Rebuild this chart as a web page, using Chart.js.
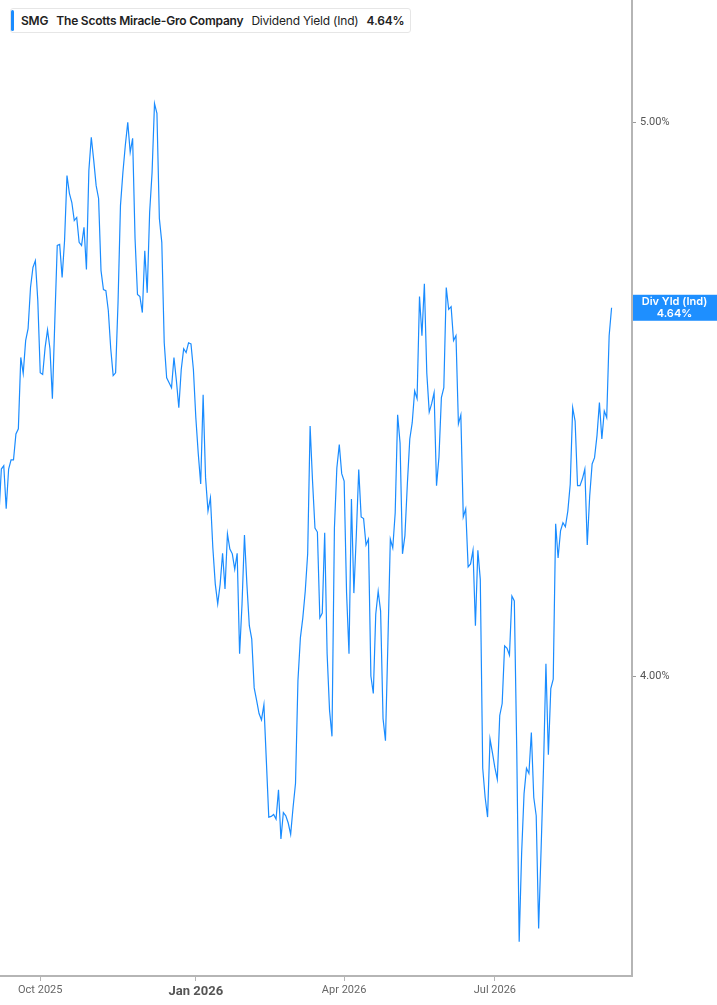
<!DOCTYPE html>
<html>
<head>
<meta charset="utf-8">
<script src="https://cdn.jsdelivr.net/npm/chart.js@4"></script>
<style>
  body { margin: 0; background: #fff; }
  #wrap { position: relative; width: 717px; height: 1005px; }
  #legend {
    position: absolute; left: 10px; top: 8px; height: 25px;
    box-sizing: border-box; border: 1px solid #e6e6e6; border-radius: 3px; background: #fff;
    display: flex; align-items: center; padding: 0 6px 0 10px; gap: 8px; white-space: nowrap;
    font-family: Inter, sans-serif; font-size: 12px; letter-spacing: -0.2px; color: #222;
  }
  #legend::before {
    content: ''; position: absolute; left: 0; top: 1px; bottom: 1px; width: 3px;
    background: #1a8cff; border-radius: 2px;
  }
  #legend b { font-weight: 600; }
</style>
</head>
<body>
<div id="wrap">
  <canvas id="myChart"></canvas>
  <div id="legend"><b>SMG</b><b>The Scotts Miracle-Gro Company</b><span>Dividend Yield (Ind)</span><b>4.64%</b></div>
</div>
<script>
// trading days from 8 Sep 2025, daily indicated dividend yield (%)
const startDate = '2025-09-08';
const holidays = ['2025-11-27', '2025-12-25', '2026-01-01', '2026-01-19', '2026-02-16',
  '2026-04-03', '2026-05-25', '2026-06-19', '2026-07-03', '2026-09-07'];

const divYield = [
  4.267, 4.348, 4.354, 4.279, 4.348, 4.364, 4.364, 4.410, 4.419, 4.548,
  4.519, 4.579, 4.601, 4.678, 4.716, 4.729, 4.653, 4.520, 4.517, 4.566,
  4.599, 4.564, 4.473, 4.616, 4.758, 4.760, 4.697, 4.767, 4.894, 4.859,
  4.841, 4.806, 4.812, 4.764, 4.758, 4.793, 4.712, 4.904, 4.970, 4.924,
  4.874, 4.849, 4.710, 4.674, 4.672, 4.635, 4.564, 4.515, 4.520, 4.650,
  4.835, 4.900, 4.954, 5.000, 4.940, 4.968, 4.771, 4.665, 4.661, 4.631,
  4.748, 4.668, 4.822, 4.900, 5.038, 5.018, 4.810, 4.764, 4.575, 4.511,
  4.502, 4.493, 4.548, 4.506, 4.457, 4.526, 4.564, 4.557, 4.575, 4.573,
  4.526, 4.439, 4.375, 4.322, 4.480, 4.333, 4.275, 4.298, 4.212, 4.151,
  4.118, 4.151, 4.203, 4.143, 4.236, 4.210, 4.202, 4.176, 4.203, 4.036,
  4.118, 4.234, 4.151, 4.082, 4.060, 3.981, 3.961, 3.940, 3.930, 3.954,
  3.866, 3.779, 3.780, 3.783, 3.776, 3.821, 3.746, 3.786, 3.781, 3.770,
  3.753, 3.794, 3.831, 3.993, 4.062, 4.095, 4.139, 4.202, 4.424, 4.327,
  4.246, 4.239, 4.095, 4.103, 4.238, 4.036, 3.945, 3.904, 4.246, 4.350,
  4.391, 4.340, 4.327, 4.136, 4.036, 4.296, 4.136, 4.233, 4.347, 4.265,
  4.262, 4.217, 4.227, 4.000, 3.972, 4.101, 4.139, 4.106, 3.932, 3.897,
  4.054, 4.227, 4.212, 4.272, 4.444, 4.394, 4.202, 4.233, 4.322, 4.401,
  4.430, 4.487, 4.473, 4.661, 4.588, 4.685, 4.519, 4.449, 4.464, 4.484,
  4.319, 4.369, 4.475, 4.493, 4.678, 4.637, 4.642, 4.579, 4.588, 4.428,
  4.444, 4.265, 4.279, 4.180, 4.185, 4.208, 4.082, 4.208, 4.159, 3.854,
  3.809, 3.779, 3.900, 3.878, 3.855, 3.837, 3.937, 3.956, 4.049, 4.045,
  4.034, 4.131, 4.123, 3.882, 3.594, 3.724, 3.815, 3.854, 3.846, 3.910,
  3.809, 3.781, 3.613, 3.729, 3.855, 4.020, 3.875, 3.980, 3.995, 4.253,
  4.195, 4.241, 4.255, 4.248, 4.275, 4.322, 4.457, 4.433, 4.319, 4.319,
  4.331, 4.348, 4.217, 4.301, 4.357, 4.368, 4.407, 4.466, 4.401, 4.451,
  4.439, 4.588, 4.640
];

const tickMonths = ['2025-10', '2026-01', '2026-04', '2026-07'];
const tickLabels = ['Oct 2025', 'Jan 2026', 'Apr 2026', 'Jul 2026'];
const yTicks = [4, 5];

function tradingDays(start, n) {
  const out = [];
  const d = new Date(start + 'T00:00:00Z');
  while (out.length < n) {
    const s = d.toISOString().slice(0, 10);
    const wd = d.getUTCDay();
    if (wd !== 0 && wd !== 6 && !holidays.includes(s)) out.push(s);
    d.setUTCDate(d.getUTCDate() + 1);
  }
  return out;
}

const dates = tradingDays(startDate, divYield.length);
const tickIdx = tickMonths.map(m => dates.findIndex(s => s.startsWith(m)));

Chart.defaults.font.family = 'Roboto, sans-serif';

const lastLabel = {
  id: 'lastLabel',
  afterDraw(chart) {
    const { ctx, chartArea, scales } = chart;
    const v = divYield[divYield.length - 1];
    const y = scales.y.getPixelForValue(v);
    const cx = (chartArea.right + chart.width) / 2;
    ctx.save();
    ctx.fillStyle = '#1e8fff';
    ctx.fillRect(chartArea.right + 1, y - 13, chart.width - chartArea.right - 1, 26);
    ctx.fillStyle = '#fff';
    ctx.font = '600 11px Inter, sans-serif';
    ctx.textAlign = 'center';
    ctx.textBaseline = 'middle';
    ctx.fillText('Div Yld (Ind)', cx, y - 6);
    ctx.fillText(v.toFixed(2) + '%', cx, y + 6);
    ctx.restore();
  }
};

const ctx = document.getElementById('myChart').getContext('2d');
document.getElementById('myChart').parentNode.style.height = '1005px';

var myChart = new Chart(ctx, {
  type: 'line',
  data: {
    datasets: [{
      label: 'Dividend Yield (Ind)',
      data: divYield.map((v, i) => ({ x: i, y: v })),
      borderColor: 'rgb(26, 140, 255)',
      borderWidth: 1.2,
      pointRadius: 0,
      tension: 0,
      fill: false
    }]
  },
  options: {
    responsive: true,
    maintainAspectRatio: false,
    animation: false,
    layout: { padding: 0 },
    plugins: { legend: { display: false }, tooltip: { enabled: false } },
    scales: {
      x: {
        type: 'linear',
        min: 0.45,
        max: 260.4,
        afterBuildTicks: s => { s.ticks = tickIdx.map(v => ({ value: v })); },
        afterFit: s => { s.height = 29; s.paddingLeft = 0; s.paddingRight = 0; },
        border: { display: true, color: '#b5b5b5', width: 2 },
        grid: { drawOnChartArea: false, drawTicks: true, tickLength: 5, color: '#b5b5b5' },
        ticks: {
          autoSkip: false,
          maxRotation: 0,
          padding: 3,
          color: c => (c.index === 1 ? '#555' : '#666'),
          font: c => (c.index === 1 ? { size: 13, weight: 'bold' } : { size: 11 }),
          callback: (v) => tickLabels[tickIdx.indexOf(v)]
        }
      },
      y: {
        type: 'logarithmic',
        position: 'right',
        min: 3.5446,
        max: 5.2527,
        afterBuildTicks: s => { s.ticks = yTicks.map(v => ({ value: v })); },
        afterFit: s => { s.width = 85; s.paddingTop = 0; s.paddingBottom = 0; },
        border: { display: true, color: '#b5b5b5', width: 2 },
        grid: { drawOnChartArea: false, drawTicks: true, tickLength: 4, color: '#999' },
        ticks: {
          padding: 4,
          color: '#555',
          font: { size: 11 },
          callback: v => Number(v).toFixed(2) + '%'
        }
      }
    }
  },
  plugins: [lastLabel]
});
</script>
</body>
</html>
